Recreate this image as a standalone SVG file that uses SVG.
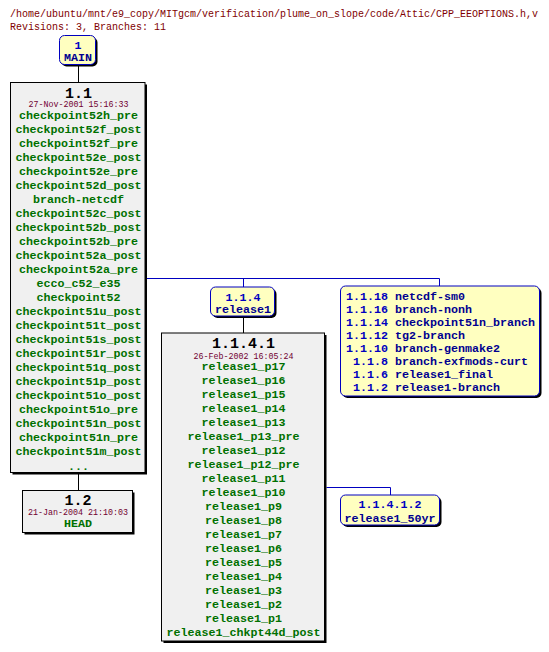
<svg xmlns="http://www.w3.org/2000/svg" width="549" height="652" viewBox="0 0 549 652">
<style>
text{font-family:"Liberation Mono","DejaVu Sans Mono",monospace;}
.title{font-size:10px;fill:#800000;}
.rev{font-size:15px;font-weight:bold;fill:#000;text-anchor:middle;}
.date{font-size:8.33px;fill:#700030;text-anchor:middle;}
.tag{font-size:11.67px;font-weight:bold;fill:#007000;text-anchor:middle;}
.bnum{font-size:11.67px;font-weight:bold;fill:#0000c0;}
.bname{font-size:11.67px;font-weight:bold;fill:#000090;}
.rbox{fill:#f0f0f0;stroke:#000;stroke-width:1;}
.bbox{fill:#ffffc0;stroke:#0000c0;stroke-width:1;}
.shadow{fill:#000;stroke:none;}
.lk{stroke:#000;stroke-width:1;fill:none;}
.lb{stroke:#0000c0;stroke-width:1;fill:none;}
</style>
<rect x="0" y="0" width="549" height="652" fill="#fff"/>
<text class="title" x="10" y="17">/home/ubuntu/mnt/e9_copy/MITgcm/verification/plume_on_slope/code/Attic/CPP_EEOPTIONS.h,v</text>
<text class="title" x="10" y="30">Revisions: 3, Branches: 11</text>

<g id="connectors">
<line class="lk" x1="78.5" y1="66" x2="78.5" y2="82.5"/>
<line class="lk" x1="78.5" y1="474" x2="78.5" y2="490.5"/>
<polyline class="lb" points="147,278.5 439.5,278.5 439.5,286"/>
<line class="lb" x1="243.5" y1="278.5" x2="243.5" y2="287"/>
<line class="lk" x1="243.5" y1="317" x2="243.5" y2="333"/>
<polyline class="lb" points="326.5,487.5 390.5,487.5 390.5,495"/>
</g>

<g id="MAIN">
<rect class="shadow" x="61.5" y="37.5" width="36" height="29" rx="5"/>
<rect class="bbox" x="59.5" y="35.5" width="36" height="29" rx="5"/>
<text class="bnum" x="78" y="49" text-anchor="middle">1</text>
<text class="bname" x="78" y="61.3" text-anchor="middle">MAIN</text>
</g>

<g id="r1.1">
<rect class="shadow" x="12.5" y="84.5" width="134.5" height="390"/>
<rect class="rbox" x="10.5" y="82.5" width="134.5" height="390"/>
<text class="rev" x="78.5" y="97.5">1.1</text>
<text class="date" x="78.5" y="107">27-Nov-2001 15:16:33</text>
<text class="tag" x="78.5" y="119">checkpoint52h_pre</text>
<text class="tag" x="78.5" y="133">checkpoint52f_post</text>
<text class="tag" x="78.5" y="147">checkpoint52f_pre</text>
<text class="tag" x="78.5" y="161">checkpoint52e_post</text>
<text class="tag" x="78.5" y="175">checkpoint52e_pre</text>
<text class="tag" x="78.5" y="189">checkpoint52d_post</text>
<text class="tag" x="78.5" y="203">branch-netcdf</text>
<text class="tag" x="78.5" y="217">checkpoint52c_post</text>
<text class="tag" x="78.5" y="231">checkpoint52b_post</text>
<text class="tag" x="78.5" y="245">checkpoint52b_pre</text>
<text class="tag" x="78.5" y="259">checkpoint52a_post</text>
<text class="tag" x="78.5" y="273">checkpoint52a_pre</text>
<text class="tag" x="78.5" y="287">ecco_c52_e35</text>
<text class="tag" x="78.5" y="301">checkpoint52</text>
<text class="tag" x="78.5" y="315">checkpoint51u_post</text>
<text class="tag" x="78.5" y="329">checkpoint51t_post</text>
<text class="tag" x="78.5" y="343">checkpoint51s_post</text>
<text class="tag" x="78.5" y="357">checkpoint51r_post</text>
<text class="tag" x="78.5" y="371">checkpoint51q_post</text>
<text class="tag" x="78.5" y="385">checkpoint51p_post</text>
<text class="tag" x="78.5" y="399">checkpoint51o_post</text>
<text class="tag" x="78.5" y="413">checkpoint51o_pre</text>
<text class="tag" x="78.5" y="427">checkpoint51n_post</text>
<text class="tag" x="78.5" y="441">checkpoint51n_pre</text>
<text class="tag" x="78.5" y="455">checkpoint51m_post</text>
<text class="tag" x="78.5" y="470">...</text>
</g>

<g id="r1.2">
<rect class="shadow" x="24.5" y="492.5" width="110" height="42"/>
<rect class="rbox" x="22.5" y="490.5" width="110" height="42"/>
<text class="rev" x="78" y="505.2">1.2</text>
<text class="date" x="78" y="515.4">21-Jan-2004 21:10:03</text>
<text class="tag" x="78" y="526.7">HEAD</text>
</g>

<g id="b1.1.4">
<rect class="shadow" x="212.5" y="289" width="64" height="29" rx="5"/>
<rect class="bbox" x="210.5" y="287" width="64" height="29" rx="5"/>
<text class="bnum" x="243" y="300.7" text-anchor="middle">1.1.4</text>
<text class="bname" x="243" y="313.3" text-anchor="middle">release1</text>
</g>

<g id="branches">
<rect class="shadow" x="342.5" y="288" width="199" height="110" rx="5"/>
<rect class="bbox" x="340.5" y="286" width="199" height="110" rx="5"/>
<text class="bnum" x="388" y="299.5" text-anchor="end">1.1.18</text><text class="bname" x="395" y="299.5">netcdf-sm0</text>
<text class="bnum" x="388" y="312.5" text-anchor="end">1.1.16</text><text class="bname" x="395" y="312.5">branch-nonh</text>
<text class="bnum" x="388" y="325.5" text-anchor="end">1.1.14</text><text class="bname" x="395" y="325.5">checkpoint51n_branch</text>
<text class="bnum" x="388" y="338.5" text-anchor="end">1.1.12</text><text class="bname" x="395" y="338.5">tg2-branch</text>
<text class="bnum" x="388" y="351.5" text-anchor="end">1.1.10</text><text class="bname" x="395" y="351.5">branch-genmake2</text>
<text class="bnum" x="388" y="364.5" text-anchor="end">1.1.8</text><text class="bname" x="395" y="364.5">branch-exfmods-curt</text>
<text class="bnum" x="388" y="377.5" text-anchor="end">1.1.6</text><text class="bname" x="395" y="377.5">release1_final</text>
<text class="bnum" x="388" y="390.5" text-anchor="end">1.1.2</text><text class="bname" x="395" y="390.5">release1-branch</text>
</g>

<g id="r1.1.4.1">
<rect class="shadow" x="163.5" y="335" width="163" height="308"/>
<rect class="rbox" x="161.5" y="333" width="163" height="308"/>
<text class="rev" x="243.5" y="347.5">1.1.4.1</text>
<text class="date" x="243.5" y="358.7">26-Feb-2002 16:05:24</text>
<text class="tag" x="243.5" y="370">release1_p17</text>
<text class="tag" x="243.5" y="384">release1_p16</text>
<text class="tag" x="243.5" y="398">release1_p15</text>
<text class="tag" x="243.5" y="412">release1_p14</text>
<text class="tag" x="243.5" y="426">release1_p13</text>
<text class="tag" x="243.5" y="440">release1_p13_pre</text>
<text class="tag" x="243.5" y="454">release1_p12</text>
<text class="tag" x="243.5" y="468">release1_p12_pre</text>
<text class="tag" x="243.5" y="482">release1_p11</text>
<text class="tag" x="243.5" y="496">release1_p10</text>
<text class="tag" x="243.5" y="510">release1_p9</text>
<text class="tag" x="243.5" y="524">release1_p8</text>
<text class="tag" x="243.5" y="538">release1_p7</text>
<text class="tag" x="243.5" y="552">release1_p6</text>
<text class="tag" x="243.5" y="566">release1_p5</text>
<text class="tag" x="243.5" y="580">release1_p4</text>
<text class="tag" x="243.5" y="594">release1_p3</text>
<text class="tag" x="243.5" y="608">release1_p2</text>
<text class="tag" x="243.5" y="622">release1_p1</text>
<text class="tag" x="243.5" y="636">release1_chkpt44d_post</text>
</g>

<g id="b1.1.4.1.2">
<rect class="shadow" x="342.5" y="497" width="99" height="30" rx="5"/>
<rect class="bbox" x="340.5" y="495" width="99" height="30" rx="5"/>
<text class="bnum" x="390" y="508.3" text-anchor="middle">1.1.4.1.2</text>
<text class="bname" x="390" y="522.3" text-anchor="middle">release1_50yr</text>
</g>
</svg>
